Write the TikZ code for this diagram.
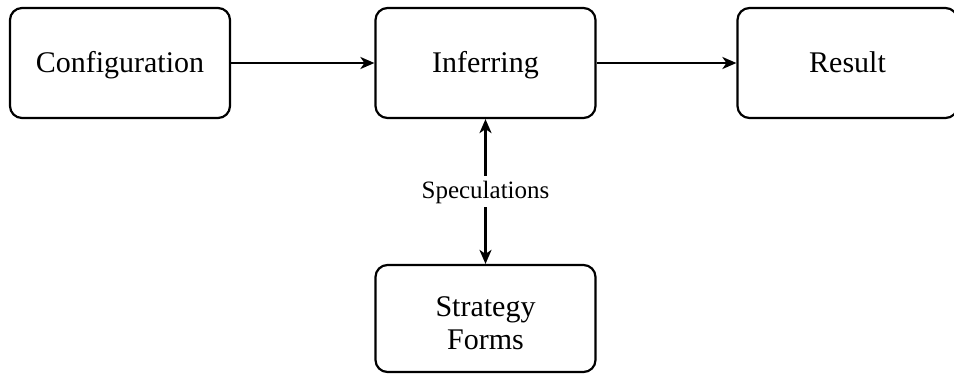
\documentclass[tikz,border=0pt]{standalone}
\usepackage{fontspec}
\setmainfont{Liberation Serif}
\usepackage{tikz}
\usetikzlibrary{arrows.meta}

\tikzset{
    stagebox/.style={draw, line width=1.1pt, rounded corners=6pt, minimum width=110pt,
        minimum height=55pt, align=center, font=\fontsize{15}{16.5}\selectfont},
    oneline/.style={text height=0.9em, text depth=0em},
    flow/.style={-{Stealth[length=7pt,width=6pt,inset=2pt]}, line width=1.2pt}
}

\begin{document}
\begin{tikzpicture}[x=0.5pt,y=-0.5pt]
        \useasboundingbox (0,0) rectangle (954,376);
        \node[stagebox, oneline] (config) at (120,63) {Configuration};
        \node[stagebox, oneline] (infer) at (485.5,63) {Inferring};
        \node[stagebox, oneline] (result) at (847.5,63) {Result};
        \node[stagebox, minimum height=53.5pt] (strategy) at (485.5,318.5) {\rule{0pt}{0.95em}Strategy\\Forms};
        \draw[flow] (config) -- (infer);
        \draw[flow] (infer) -- (result);
        \draw[flow, {Stealth[length=7pt,width=6pt,inset=2pt]}-{Stealth[length=7pt,width=6pt,inset=2pt]}] (infer) -- (strategy)
            node[midway, fill=white, inner sep=3pt, text height=0.8em, text depth=0.12em,
                font=\fontsize{12.5}{14}\selectfont] (spec) {Speculations};
\end{tikzpicture}
\end{document}
